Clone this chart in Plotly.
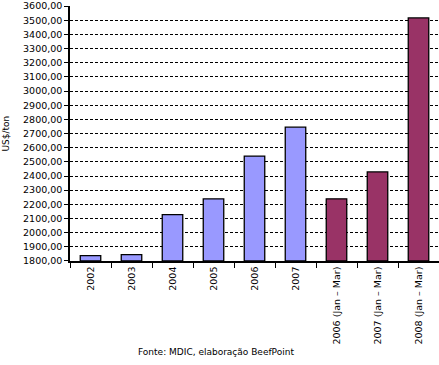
import plotly.graph_objects as go

categories = ["2002", "2003", "2004", "2005", "2006", "2007",
              "2006 (Jan – Mar)", "2007 (Jan – Mar)", "2008 (Jan – Mar)"]
values = [1838, 1845, 2128, 2239, 2541, 2745, 2239, 2429, 3516]
bar_colors = ["#9999FF"] * 6 + ["#993366"] * 3
y_ticks = list(range(1800, 3601, 100))

FONT = "DejaVu Sans, Verdana, sans-serif"

fig = go.Figure(go.Bar(
    x=categories, y=[v - 1800 for v in values], base=1800,
    marker=dict(color=bar_colors, line=dict(color="black", width=1.3)),
    width=0.5,
))

fig.update_layout(
    width=439, height=365,
    margin=dict(l=70, r=0, t=6, b=104, autoexpand=False),
    paper_bgcolor="white", plot_bgcolor="white",
    separators=",.",
    showlegend=False,
    font=dict(family=FONT, size=9, color="black"),
    annotations=[
        dict(text="Fonte: MDIC, elaboração BeefPoint", xref="paper", yref="paper",
             x=0.395, y=-0.355, xanchor="center", yanchor="middle",
             showarrow=False, font=dict(family=FONT, size=9, color="black")),
        dict(text="US$/ton", xref="paper", yref="paper", x=-0.176, y=0.5,
             xanchor="center", yanchor="middle", textangle=-90,
             showarrow=False, font=dict(family=FONT, size=9, color="black")),
    ],
)

fig.update_yaxes(
    range=[1799.9, 3600.2], tickvals=y_ticks, tickformat=".2f", automargin=False,
    ticklabeloverflow="allow",
    showline=True, linecolor="black", linewidth=1.5,
    ticks="outside", ticklen=4, tickcolor="black", tickwidth=1,
    showgrid=True, gridcolor="black", gridwidth=1, griddash="3px,2px",
    zeroline=False, tickfont=dict(family=FONT, size=9.5, color="black"),
)
fig.update_xaxes(
    type="category", tickangle=-90, tickson="boundaries", automargin=False,
    showline=True, linecolor="black", linewidth=1.5,
    ticks="outside", ticklen=5, tickcolor="black", tickwidth=1,
    showgrid=False, tickfont=dict(family=FONT, size=9.5, color="black"),
)

fig.write_html("out.html", config={"displayModeBar": False},
               post_script="document.body.style.margin='0';document.body.style.overflow='hidden';")
